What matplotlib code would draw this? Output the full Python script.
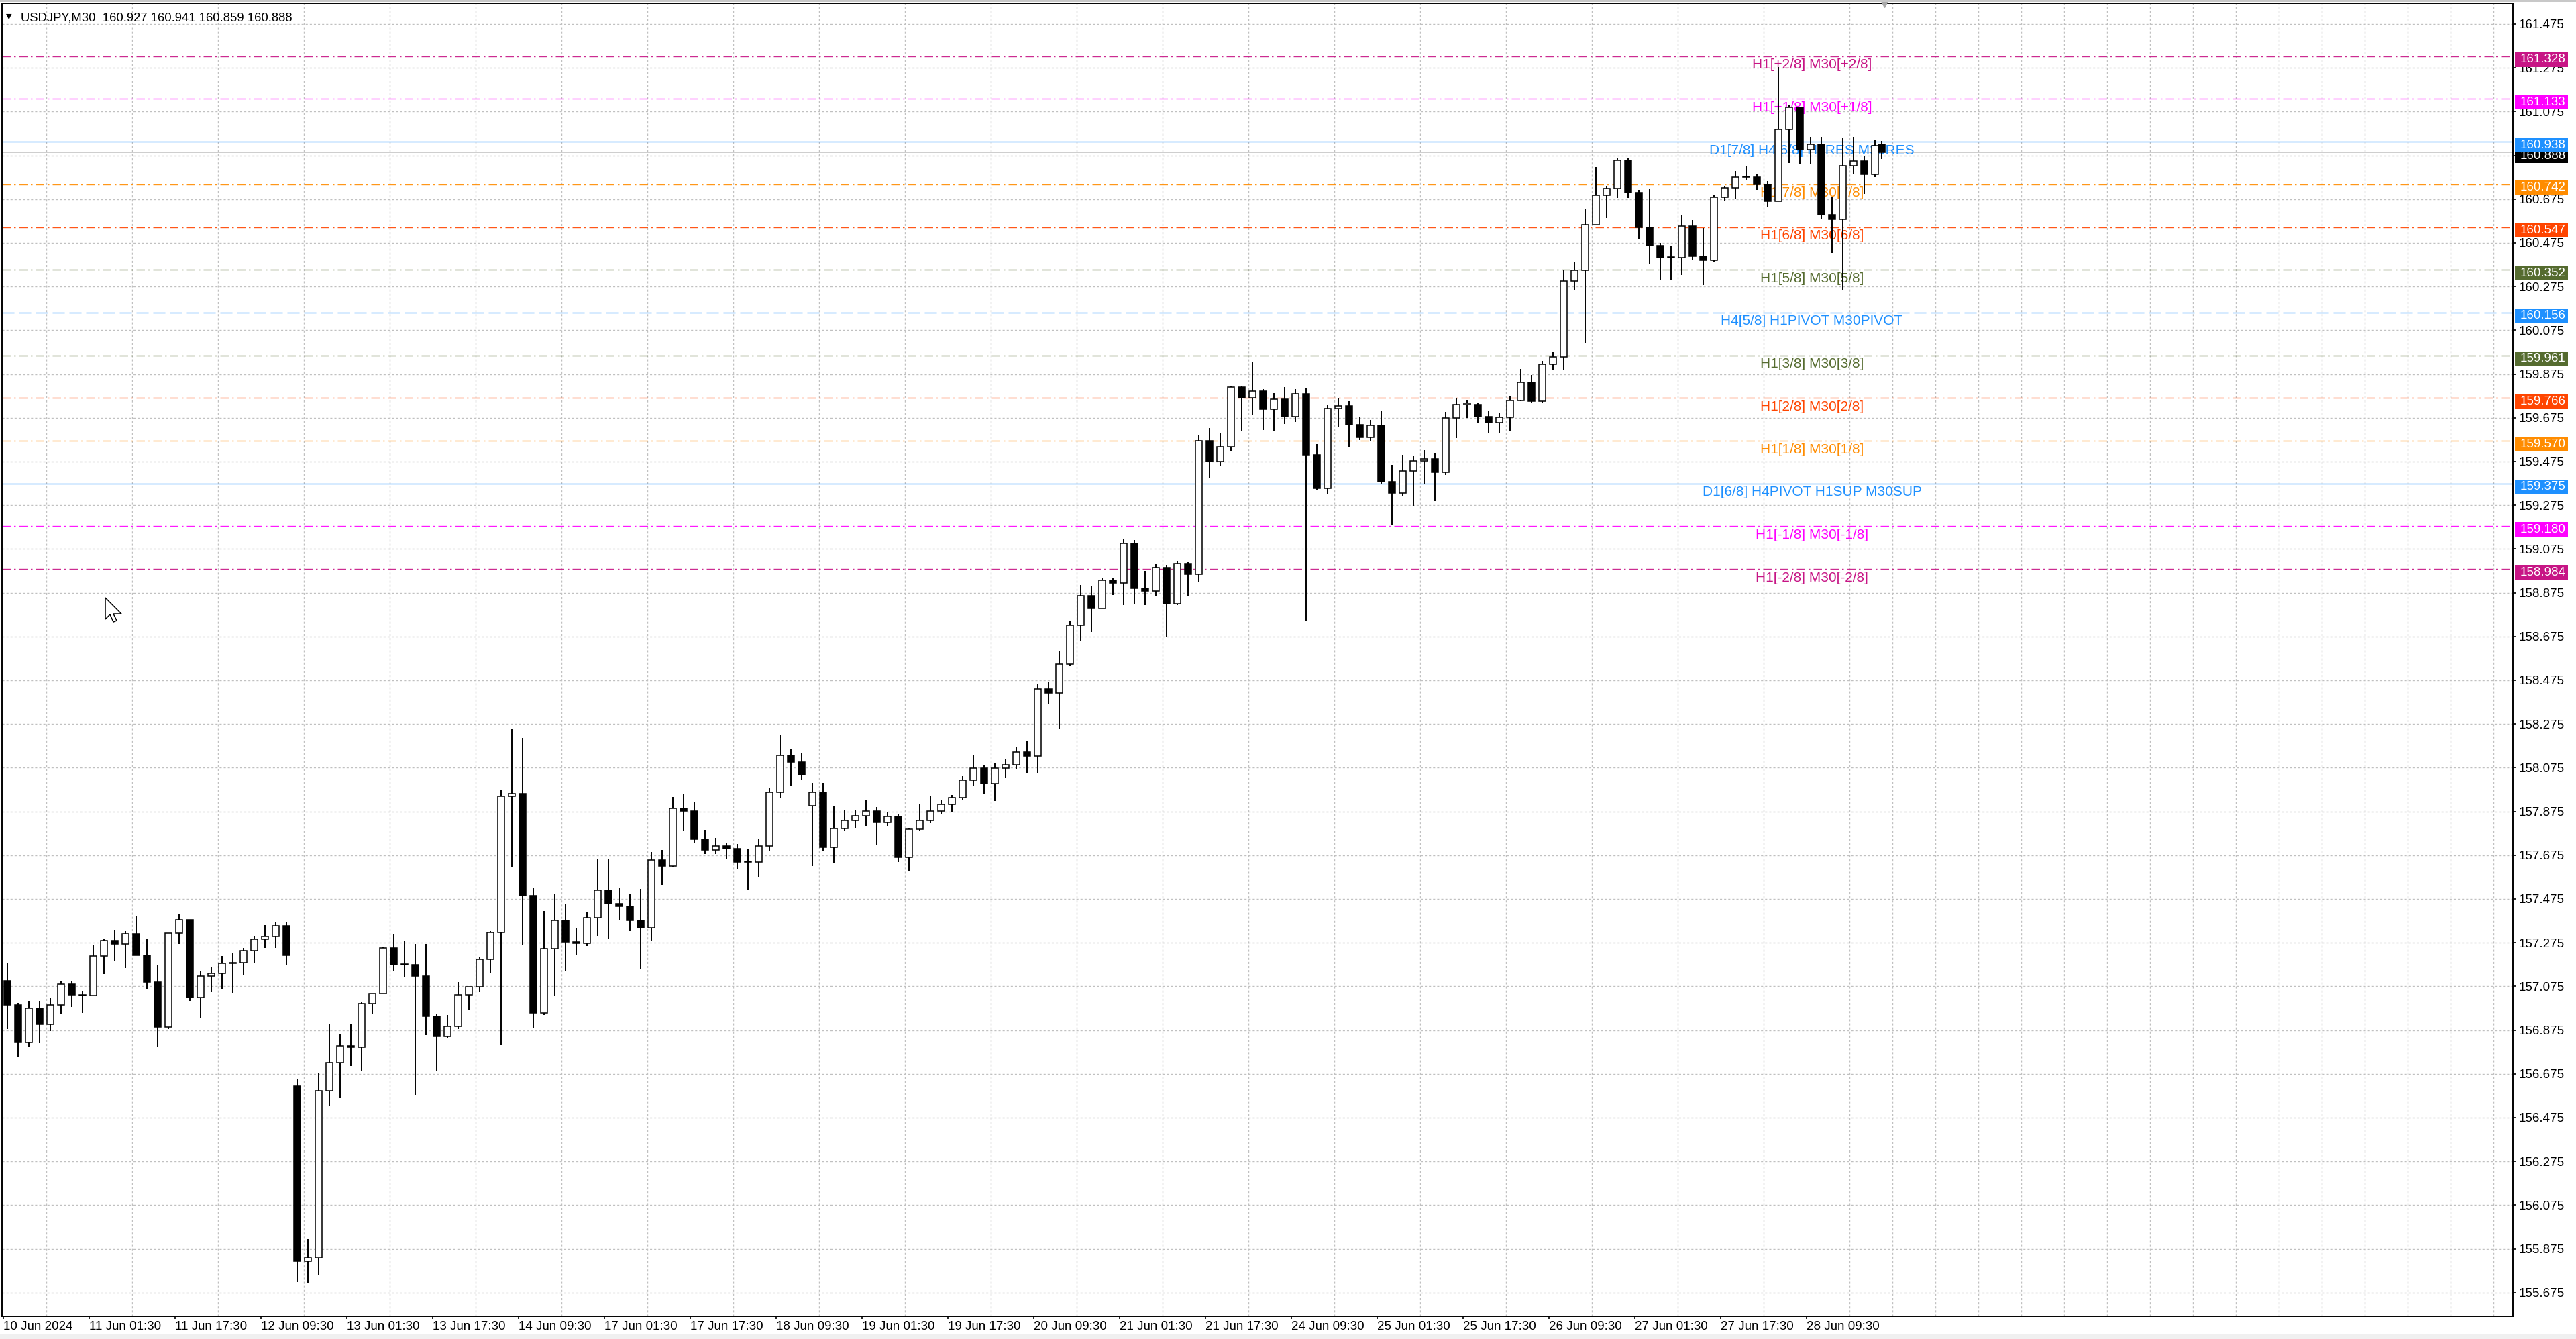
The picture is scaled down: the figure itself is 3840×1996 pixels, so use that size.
import matplotlib
matplotlib.use("Agg")
import matplotlib.pyplot as plt
import matplotlib.transforms as mtransforms
from matplotlib.patches import Rectangle, Polygon
import numpy as np

plt.rcParams['font.family'] = ['Liberation Sans', 'DejaVu Sans']
plt.rcParams['lines.scale_dashes'] = False

# ---- data (USDJPY M30, grouped 4 bars per candle) ----
symbol = "USDJPY,M30"
last_bar = [160.927, 160.941, 160.859, 160.888]   # O H L C of the live bar
first_open = 157.10
gap_opens = {27: 156.62, 75: 157.90}

closes = [
    156.99, 156.82, 156.975, 156.90, 156.99, 157.085, 157.035, 157.033,
    157.213, 157.284, 157.27, 157.317, 157.216, 157.095, 156.889, 157.32,
    157.379, 157.024, 157.123, 157.135, 157.179, 157.185, 157.238, 157.29,
    157.302, 157.352, 157.216, 155.82, 155.833, 156.598, 156.728, 156.802,
    156.796, 156.996, 157.043, 157.25, 157.173, 157.173, 157.123, 156.938,
    156.845, 156.892, 157.037, 157.074, 157.198, 157.322, 157.945, 157.958,
    157.489, 156.952, 157.248, 157.377, 157.279, 157.273, 157.39, 157.516,
    157.452, 157.442, 157.378, 157.343, 157.652, 157.624, 157.89, 157.877,
    157.748, 157.698, 157.717, 157.705, 157.643, 157.643, 157.717, 157.964,
    158.131, 158.10, 158.042, 157.964, 157.711, 157.797, 157.834, 157.856,
    157.877, 157.824, 157.853, 157.664, 157.795, 157.834, 157.877, 157.906,
    157.938, 158.019, 158.074, 158.003, 158.074, 158.089, 158.147, 158.129,
    158.434, 158.418, 158.548, 158.727, 158.862, 158.802, 158.931, 158.92,
    159.10, 158.896, 158.884, 158.99, 158.826, 159.009, 158.959, 159.57,
    159.476, 159.541, 159.817, 159.765, 159.797, 159.714, 159.761, 159.679,
    159.786, 159.507, 159.353, 159.718, 159.729, 159.645, 159.585, 159.64,
    159.382, 159.332, 159.432, 159.479, 159.486, 159.427, 159.674, 159.737,
    159.737, 159.681, 159.652, 159.678, 159.754, 159.836, 159.751, 159.92,
    159.955, 160.30, 160.35, 160.557, 160.692, 160.723, 160.852, 160.706,
    160.547, 160.462, 160.406, 160.406, 160.552, 160.414, 160.395, 160.685,
    160.726, 160.775, 160.775, 160.742, 160.665, 160.992, 161.094, 160.90,
    160.926, 160.603, 160.583, 160.828, 160.849, 160.787, 160.92,
]
highs = [
    157.18, 157.00, 157.01, 157.01, 157.02, 157.10, 157.10, 157.055,
    157.265, 157.29, 157.333, 157.327, 157.395, 157.29, 157.17, 157.32,
    157.403, 157.38, 157.148, 157.164, 157.213, 157.228, 157.25, 157.302,
    157.355, 157.37, 157.37, 156.654, 155.92, 156.679, 156.90, 156.858,
    156.905, 157.006, 157.043, 157.255, 157.312, 157.283, 157.268, 157.268,
    156.95, 156.944, 157.095, 157.074, 157.21, 157.328, 157.976, 158.254,
    158.211, 157.526, 157.421, 157.495, 157.452, 157.34, 157.415, 157.655,
    157.659, 157.526, 157.501, 157.52, 157.689, 157.698, 157.94, 157.958,
    157.92, 157.791, 157.754, 157.73, 157.726, 157.705, 157.748, 157.982,
    158.227, 158.161, 158.145, 158.005, 158.005, 157.898, 157.881, 157.881,
    157.927, 157.896, 157.871, 157.865, 157.80, 157.906, 157.948, 157.93,
    157.949, 158.035, 158.132, 158.085, 158.097, 158.113, 158.168, 158.199,
    158.461, 158.47, 158.606, 158.747, 158.912, 158.904, 158.94, 158.943,
    159.123, 159.115, 158.974, 159.006, 159.003, 159.021, 159.014, 159.598,
    159.629, 159.604, 159.82, 159.82, 159.93, 159.805, 159.789, 159.817,
    159.805, 159.808, 159.554, 159.734, 159.765, 159.75, 159.682, 159.664,
    159.707, 159.46, 159.507, 159.504, 159.526, 159.512, 159.702, 159.762,
    159.758, 159.744, 159.706, 159.695, 159.772, 159.899, 159.871, 159.934,
    159.976, 160.35, 160.388, 160.627, 160.821, 160.737, 160.864, 160.86,
    160.716, 160.72, 160.476, 160.462, 160.603, 160.58, 160.543, 160.695,
    160.736, 160.803, 160.828, 160.79, 160.757, 161.28, 161.105, 161.094,
    160.96, 160.96, 160.685, 160.956, 160.96, 160.87, 160.946,
]
lows = [
    156.88, 156.75, 156.80, 156.815, 156.87, 156.95, 156.98, 156.955,
    157.03, 157.13, 157.19, 157.16, 157.216, 157.06, 156.80, 156.88,
    157.27, 157.008, 156.93, 157.05, 157.065, 157.045, 157.127, 157.185,
    157.25, 157.25, 157.173, 155.722, 155.716, 155.753, 156.527, 156.564,
    156.71, 156.687, 156.95, 157.04, 157.148, 157.12, 156.58, 156.852,
    156.691, 156.84, 156.88, 156.966, 157.05, 157.137, 156.81, 157.618,
    157.266, 156.884, 156.945, 157.032, 157.145, 157.217, 157.26, 157.303,
    157.291, 157.378, 157.328, 157.153, 157.281, 157.54, 157.618, 157.785,
    157.733, 157.68, 157.68, 157.655, 157.61, 157.516, 157.575, 157.692,
    157.939, 157.992, 158.022, 157.624, 157.696, 157.637, 157.785, 157.797,
    157.807, 157.72, 157.81, 157.643, 157.602, 157.785, 157.822, 157.865,
    157.87, 157.928, 157.99, 157.956, 157.922, 158.027, 158.066, 158.05,
    158.05, 158.367, 158.254, 158.54, 158.653, 158.695, 158.802, 158.865,
    158.818, 158.826, 158.818, 158.857, 158.674, 158.818, 158.857, 158.924,
    159.397, 159.452, 159.523, 159.617, 159.687, 159.62, 159.617, 159.648,
    159.656, 158.747, 159.342, 159.327, 159.635, 159.541, 159.573, 159.566,
    159.374, 159.186, 159.319, 159.272, 159.371, 159.293, 159.413, 159.582,
    159.674, 159.652, 159.607, 159.607, 159.617, 159.751, 159.744, 159.744,
    159.892, 159.892, 160.258, 160.019, 160.554, 160.589, 160.681, 160.681,
    160.49, 160.378, 160.307, 160.307, 160.327, 160.394, 160.281, 160.39,
    160.665, 160.675, 160.762, 160.716, 160.639, 160.665, 160.839, 160.834,
    160.834, 160.583, 160.43, 160.261, 160.787, 160.70, 160.777,
]

level_prices = [161.328, 161.133, 160.938, 160.742, 160.547, 160.352, 160.156,
                159.961, 159.766, 159.570, 159.375, 159.180, 158.984]
level_colors = ['#C71585', '#FF00FF', '#1E90FF', '#FF8C00', '#FF4500', '#556B2F', '#1E90FF',
                '#556B2F', '#FF4500', '#FF8C00', '#1E90FF', '#FF00FF', '#C71585']
level_styles = ['dashdot', 'dashdot', 'solid', 'dashdot', 'dashdot', 'dashdot', 'dashed',
                'dashdot', 'dashdot', 'dashdot', 'solid', 'dashdot', 'dashdot']
level_labels = ['H1[+2/8] M30[+2/8]', 'H1[+1/8] M30[+1/8]', 'D1[7/8] H4[6/8] H1RES M30RES',
                'H1[7/8] M30[7/8]', 'H1[6/8] M30[6/8]', 'H1[5/8] M30[5/8]',
                'H4[5/8] H1PIVOT M30PIVOT', 'H1[3/8] M30[3/8]', 'H1[2/8] M30[2/8]',
                'H1[1/8] M30[1/8]', 'D1[6/8] H4PIVOT H1SUP M30SUP', 'H1[-1/8] M30[-1/8]',
                'H1[-2/8] M30[-2/8]']

time_labels = ['10 Jun 2024', '11 Jun 01:30', '11 Jun 17:30', '12 Jun 09:30', '13 Jun 01:30',
               '13 Jun 17:30', '14 Jun 09:30', '17 Jun 01:30', '17 Jun 17:30', '18 Jun 09:30',
               '19 Jun 01:30', '19 Jun 17:30', '20 Jun 09:30', '21 Jun 01:30', '21 Jun 17:30',
               '24 Jun 09:30', '25 Jun 01:30', '25 Jun 17:30', '26 Jun 09:30', '27 Jun 01:30',
               '27 Jun 17:30', '28 Jun 09:30']
price_ticks = [155.675, 155.875, 156.075, 156.275, 156.475, 156.675, 156.875, 157.075,
               157.275, 157.475, 157.675, 157.875, 158.075, 158.275, 158.475, 158.675,
               158.875, 159.075, 159.275, 159.475, 159.675, 159.875, 160.075, 160.275,
               160.475, 160.675, 160.875, 161.075, 161.275, 161.475]

bars_per_candle = 4
bars_per_label = 32
bars_per_grid = 16
label_bar = 674

# ---- layout (pixel geometry of the terminal window) ----
W, H, DPI = 3840, 1996, 100
left_px, right_px, top_px, bottom_px = 3, 3746, 5, 1962
ref_price, ref_px, px_per_unit = 161.475, 36, 326.0
bar_px, bar0_px = 4.0, 5.0

fig = plt.figure(figsize=(W / DPI, H / DPI), dpi=DPI)
fig.patch.set_facecolor('white')
ax = fig.add_axes([left_px / W, 1 - bottom_px / H, (right_px - left_px) / W, (bottom_px - top_px) / H])
ax.set_facecolor('white')

ax.set_ylim(ref_price - (bottom_px - ref_px) / px_per_unit, ref_price - (top_px - ref_px) / px_per_unit)
ax.set_xlim((left_px - bar0_px) / bar_px, (right_px - bar0_px) / bar_px)

# ---- candles ----
opens = [first_open] + closes[:-1]
for i, v in gap_opens.items():
    opens[i] = v
o = np.array(opens + [last_bar[0]])
c = np.array(closes + [last_bar[3]])
hi = np.maximum(np.array(highs + [last_bar[1]]), np.maximum(o, c))
lo = np.minimum(np.array(lows + [last_bar[2]]), np.minimum(o, c))
n = len(c)
xc = np.arange(n) * bars_per_candle + 1.5
xc[-1] = (n - 1) * bars_per_candle

ax.vlines(xc, lo, hi, colors='black', linewidth=1.4, zorder=4)
bull = c >= o
ax.bar(xc, np.maximum(np.abs(c - o), 0.004), bottom=np.minimum(o, c), width=2.3,
       color=np.where(bull, 'white', 'black'), edgecolor='black', linewidth=1.1, zorder=5)

# ---- grid ----
grid_kw = dict(color='#C0C0C0', linewidth=1.0, linestyle=(0, (2.2, 2.2)))
ax.set_xticks(np.arange(0, 936, bars_per_grid), minor=True)
ax.set_xticks(np.arange(len(time_labels)) * bars_per_label)
ax.set_xticklabels(time_labels, ha='left')
ax.set_yticks(price_ticks)
ax.set_yticklabels([f"{p:.3f}" for p in price_ticks])
ax.grid(which='minor', axis='x', **grid_kw)
ax.grid(which='major', axis='y', **grid_kw)
ax.set_axisbelow(True)

ax.yaxis.tick_right()
ax.tick_params(axis='y', which='major', length=3, width=1.2, pad=3.5, labelsize=13.5, colors='black')
ax.tick_params(axis='x', which='major', length=3, width=1.2, pad=2, labelsize=13.5, colors='black')
ax.tick_params(axis='x', which='minor', length=0)
for s in ax.spines.values():
    s.set_color('black')
    s.set_linewidth(1.4)

# ---- levels ----
styles = {'dashdot': (0, (9, 3.6, 1.8, 3.6)), 'dashed': (0, (13, 5)), 'solid': '-'}
for p, col, st, lbl in zip(level_prices, level_colors, level_styles, level_labels):
    ax.axhline(p, color=col, linewidth=1.0, linestyle=styles[st], alpha=0.9, zorder=2)
    ax.annotate(lbl, (label_bar, p), xytext=(0, -2.5), textcoords='offset points',
                ha='center', va='top', fontsize=15, color=col, zorder=3)

# bid line
ax.axhline(last_bar[3], color='#C0C0C0', linewidth=1.1, zorder=2)

# ---- price boxes on the right scale ----
tr = mtransforms.blended_transform_factory(ax.transAxes, ax.transData)
span = right_px - left_px
box_x = (3749 - left_px) / span
box_w = 79 / span
text_x = (3757 - left_px) / span
box_h = 21.7 / px_per_unit
box_off = 5 / px_per_unit


def price_box(p, col, z):
    ax.add_patch(Rectangle((box_x, p - box_off - box_h / 2), box_w, box_h, transform=tr,
                           facecolor=col, edgecolor='none', clip_on=False, zorder=z))
    ax.text(text_x, p - box_off, f"{p:.3f}", transform=tr, color='white', fontsize=13.5,
            ha='left', va='center', clip_on=False, zorder=z + 0.1)


price_box(last_bar[3], 'black', 6)
for p, col in zip(level_prices, level_colors):
    price_box(p, col, 7)

# chart shift marker
ax.plot([701], [1.0], transform=mtransforms.blended_transform_factory(ax.transData, ax.transAxes),
        marker='v', markersize=9, color='#A8A8A8', clip_on=False, zorder=8)

# ---- header ----
header = f"{symbol}  " + " ".join(f"{v:.3f}" for v in last_bar)
fig.text(31 / W, 1 - 26.5 / H, header, fontsize=13.3, va='center', ha='left')
fig.text(9 / W, 1 - 25 / H, '\u25bc', fontsize=8, family='DejaVu Sans', va='center', ha='left')

# mouse pointer left on the chart (image pixel coords, y down)
px_tr = mtransforms.Affine2D().scale(1 / W, -1 / H).translate(0, 1) + fig.transFigure
tip = np.array([157, 891])
arrow = np.array([[0, 0], [0, 32], [7, 25], [12, 36], [17, 34], [12, 24], [24, 24]]) + tip
fig.patches.append(Polygon(arrow, closed=True, transform=px_tr, facecolor='white',
                           edgecolor='black', linewidth=1.1, zorder=10))

# window frame bits
fig.patches.append(Rectangle((0, 0), 1, 7 / H, transform=fig.transFigure, facecolor='#F0F0F0',
                             edgecolor='none'))
fig.patches.append(Rectangle((0, 1 - 3 / H), 1, 3 / H, transform=fig.transFigure, facecolor='#C8C8C8',
                             edgecolor='none'))

fig.savefig('out.png', dpi=DPI, facecolor='white')
